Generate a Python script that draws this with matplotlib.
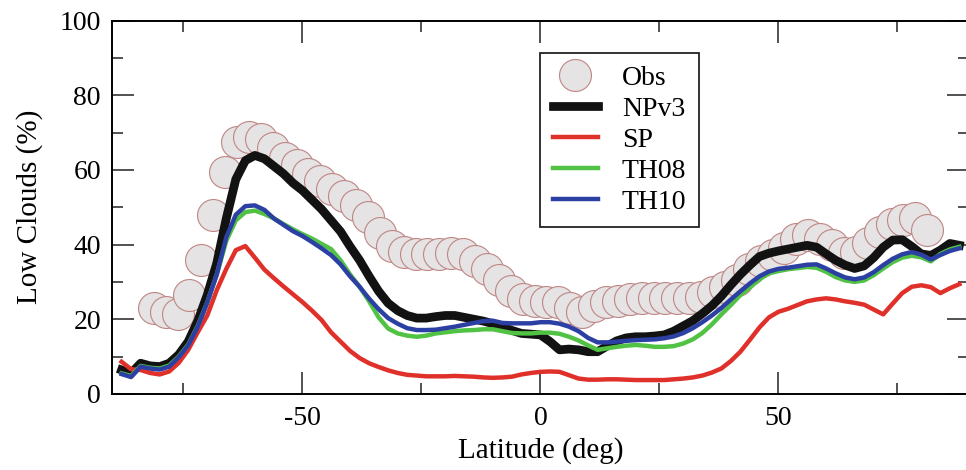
import matplotlib
matplotlib.use("Agg")
import matplotlib.pyplot as plt
from matplotlib.ticker import MultipleLocator

plt.rcParams['font.family'] = ['Liberation Serif', 'DejaVu Serif']
plt.rcParams['axes.unicode_minus'] = False

# observed low cloud amount, 2.5 deg bins
obs_lat = [-81.25 + 2.5 * k for k in range(66)]
obs_val = [23, 22, 21.5, 26.5, 36, 48, 59.5, 67.5, 68.8, 68.3,
           66, 63.3, 61.2, 59, 57, 55, 53, 50.5, 47.5, 43,
           39.5, 38, 37.6, 37.6, 37.6, 37.8, 37.6, 35.5, 33.5, 30.5,
           27.5, 25.5, 25, 24.7, 24.5, 23, 22, 23.5, 24.5, 25,
           25.4, 25.6, 25.6, 25.6, 25.6, 25.6, 26, 27.2, 28.6, 30.5,
           33.5, 35.5, 37.3, 39, 41.5, 42.5, 41.5, 39.8, 37.8, 38,
           40.5, 43.5, 45.5, 46.5, 47, 44]

# model latitudes
lat = list(range(-88, 89, 2))

npv3 = [6.4, 5.5, 8.2, 7.5, 7.3, 8.2, 10.5, 14, 19.5, 26.5,
        35, 47, 57.5, 62.5, 63.9, 63, 61, 59, 56.5, 54.5,
        52, 49.5, 46.5, 43.5, 39.5, 35.8, 31.5, 27.5, 24.3, 22.3,
        21, 20.3, 20.3, 20.7, 21, 21, 20.5, 20, 19.5, 18.8,
        18, 17, 16.2, 16, 15.8, 14, 11.8, 12, 11.8, 11.3,
        11.3, 12.8, 14.2, 15, 15.3, 15.3, 15.5, 15.8, 16.8, 18.2,
        19.6, 21.5, 23.6, 26.2, 29.2, 32, 34.5, 36.8, 37.7, 38.3,
        38.8, 39.3, 39.8, 39.3, 37.5, 35.8, 34.5, 33.6, 34.3, 36.5,
        39.3, 41.2, 41.3, 39.5, 37.5, 37.1, 38.5, 40.3, 39.8]

sp = [8.6, 6.6, 6.4, 5.6, 5.2, 6, 8.3, 11.8, 16.5, 21,
      27.8, 33.5, 38.5, 39.6, 36.5, 33.3, 31, 28.8, 26.7, 24.6,
      22.3, 19.8, 16.5, 14, 11.5, 9.6, 8.2, 7.2, 6.3, 5.6,
      5.1, 4.9, 4.7, 4.7, 4.7, 4.8, 4.7, 4.6, 4.4, 4.3,
      4.4, 4.6, 5.2, 5.6, 5.9, 6, 5.9, 5, 4.1, 3.8,
      3.8, 3.9, 3.9, 3.8, 3.7, 3.7, 3.7, 3.7, 3.9, 4.1,
      4.4, 4.9, 5.7, 6.8, 8.8, 11.3, 14.5, 17.8, 20.5, 22,
      22.8, 23.8, 24.8, 25.3, 25.6, 25.3, 24.8, 24.4, 23.9, 22.6,
      21.3, 24.2, 27, 28.7, 29.1, 28.6, 27, 28.3, 29.4]

th08 = [5.5, 4.8, 7.5, 7, 6.8, 7.6, 10, 13.2, 18.2, 24.5,
        32, 41, 46.5, 48.7, 49.1, 48.2, 47, 45.5, 44.1, 42.8,
        41.6, 40.2, 38.8, 35.8, 32, 28.7, 24.8, 20.5, 17.5, 16.2,
        15.6, 15.3, 15.6, 16.2, 16.5, 16.8, 17, 17.1, 17.3, 17.3,
        16.8, 16.3, 16.2, 16.2, 16.4, 16.4, 16.1, 15.3, 14.3, 13,
        11.8, 12.2, 12.6, 12.9, 13.1, 12.9, 12.6, 12.6, 12.8, 13.5,
        14.6, 16.3, 18.6, 21.3, 23.8, 26.5, 28.5, 30.7, 32.3, 32.9,
        33.4, 33.7, 34, 33.8, 32.7, 31.3, 30.4, 30, 30.4, 31.8,
        33.6, 35.3, 36.5, 37, 36.6, 35.5, 37.5, 38.7, 39.4]

th10 = [5.3, 4.5, 7.3, 6.8, 6.5, 7.3, 9.8, 13, 18, 24.5,
        32, 42, 48, 50.3, 50.5, 49.3, 47, 45.3, 43.6, 42.3,
        40.7, 39, 37.2, 34.7, 31.5, 28.7, 25.5, 22.7, 20.3, 18.8,
        17.6, 17.1, 17.1, 17.2, 17.6, 18, 18.5, 19, 19.5, 19.6,
        19, 18.9, 18.9, 18.9, 19.2, 19.2, 18.8, 18, 16.8, 15,
        13.8, 13.8, 14, 14.2, 14.4, 14.5, 14.6, 14.9, 15.4, 16.3,
        17.6, 19.2, 21, 23, 25.3, 27.5, 29.6, 31.5, 32.8, 33.5,
        33.8, 34.2, 34.6, 34.7, 33.6, 32.3, 31.2, 30.7, 31.2, 32.6,
        34.5, 36.2, 37.4, 38, 37.3, 36, 37.2, 38.3, 39]

fig = plt.figure(figsize=(9.66, 4.70), dpi=100)
ax = fig.add_axes([0.116, 0.162, 0.887, 0.794])

ax.plot(obs_lat, obs_val, linestyle='none', marker='o', markersize=23,
        markerfacecolor='#e5e3e3', markeredgecolor='#c08585',
        markeredgewidth=0.8, label='Obs')
ax.plot(lat, npv3, color='#121212', lw=6.3, label='NPv3')
ax.plot(lat, sp, color='#e0302a', lw=3.2, label='SP')
ax.plot(lat, th08, color='#52c244', lw=3.2, label='TH08')
ax.plot(lat, th10, color='#2c40a4', lw=3.2, label='TH10')

ax.set_xlim(-90, 90)
ax.set_ylim(0, 100)
ax.xaxis.set_major_locator(MultipleLocator(50))
ax.xaxis.set_minor_locator(MultipleLocator(25))
ax.yaxis.set_major_locator(MultipleLocator(20))
ax.yaxis.set_minor_locator(MultipleLocator(10))
ax.tick_params(which='both', direction='in', top=True, right=True,
               width=1.1, labelsize=20, color='#222222')
ax.tick_params(which='major', length=15.5)
ax.tick_params(which='minor', length=8)
ax.tick_params(axis='x', pad=9)
ax.tick_params(axis='y', pad=8)
for s in ax.spines.values():
    s.set_linewidth(1.4)

ax.set_xlabel('Latitude (deg)', fontsize=21, labelpad=4)
ax.set_ylabel('Low Clouds (%)', fontsize=21, labelpad=12)

leg = ax.legend(loc='upper left', bbox_to_anchor=(0.4995, 0.9135), fontsize=20,
                fancybox=False, framealpha=1, edgecolor='#222222',
                handlelength=1.65, handletextpad=0.85, labelspacing=0.2,
                borderpad=0.45, borderaxespad=0, markerscale=1.0)
leg.get_frame().set_linewidth(1.3)

fig.savefig('out.png', dpi=100)
